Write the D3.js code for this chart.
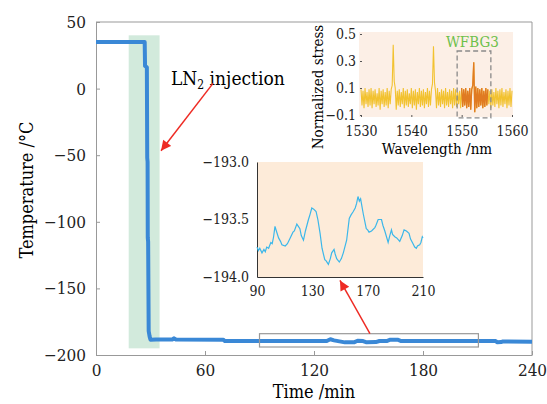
<!DOCTYPE html>
<html>
<head>
<meta charset="utf-8">
<title>LN2 cooling</title>
<script src="https://d3js.org/d3.v7.min.js"></script>
<style>
  body, html { margin: 0; padding: 0; background: #fff; }
  .axis path, .axis line { stroke: #999; }
  .axis text { fill: #222; }
</style>
</head>
<body>
<svg id="chart" width="547" height="404" font-family="'DejaVu Serif Condensed', 'DejaVu Serif', serif"></svg>
<script>
// main temperature curve (time in min, temperature in degC)
var timeMin = [0, 26.8, 27, 28, 28.2, 28.4, 28.5, 28.7, 29, 29.5, 30, 33, 42, 43, 44, 70, 71,
  127, 129, 131, 137, 142, 144, 147, 149, 154, 156, 160, 162, 166, 168, 220, 221, 223, 224, 240];
var tempC = [35, 35, 17, 16, -52, -55, -112, -115, -182, -186, -188.5, -188.3, -188.3, -187.5, -188.3, -188.5, -189.5,
  -189.5, -188.2, -189, -190.5, -190.5, -189.3, -189.5, -190.5, -190.3, -189.5, -189.5, -188.5, -188.5, -189.5, -189.5, -190.5, -190.3, -189.8, -190];
var xTicks = [0, 60, 120, 180, 240];
var yTicks = [50, 0, -50, -100, -150, -200];
var injectTime = [18, 35];      // LN2 injection window
var injectTemp = [40, -195];
var zoomBoxTime = [90, 210.5];
var zoomBoxTemp = [-184, -194];

// zoomed temperature inset (90-210 min)
var zoomTime = [90, 91, 92, 93.6, 95, 96, 97, 98.4, 100, 101, 102, 103, 104, 105.6, 107, 108, 110.4, 112, 114, 116, 117, 118.8, 121, 122, 123.6, 125,
  127.2, 128, 129.6, 131, 132.7, 134, 135.6, 137, 139, 140, 141.6, 143, 144, 145.7, 146.5, 147.6, 149.5, 151, 152.4, 154.8, 156.7, 158,
  159.6, 161, 162, 163, 164, 164.9, 166.8, 169, 170, 171, 172.8, 175.2, 176, 177.6, 180, 181, 182.4, 184.8, 186, 187.2, 188, 189.6, 191,
  193.2, 195, 196.3, 198, 199.9, 201, 202.8, 204, 205.2, 206, 207.6, 208.5, 209.5, 210];
var zoomTemp = [-193.74, -193.77, -193.75, -193.79, -193.76, -193.78, -193.74, -193.75, -193.7, -193.71, -193.65, -193.56, -193.6, -193.66, -193.69, -193.72, -193.73, -193.71, -193.66, -193.61, -193.6, -193.54, -193.58, -193.64, -193.68, -193.6,
  -193.5, -193.47, -193.4, -193.41, -193.43, -193.5, -193.62, -193.75, -193.85, -193.86, -193.89, -193.84, -193.79, -193.76, -193.8, -193.84, -193.87, -193.84, -193.79, -193.68, -193.49, -193.46,
  -193.43, -193.4, -193.36, -193.3, -193.34, -193.32, -193.45, -193.58, -193.59, -193.61, -193.6, -193.57, -193.55, -193.5, -193.5, -193.55, -193.6, -193.7, -193.64, -193.59, -193.63, -193.65, -193.66,
  -193.69, -193.64, -193.59, -193.6, -193.62, -193.67, -193.71, -193.74, -193.75, -193.73, -193.72, -193.7, -193.65, -193.66];
var zoomXTicks = [90, 130, 170, 210];
var zoomYTicks = [-193.0, -193.5, -194.0];

// reflection spectrum inset, sampled every 0.2 nm from 1530 nm
var wlStart = 1530, wlStep = 0.2;
var stress = [
  0.09,-0.03,0.08,-0.05,0.10,-0.02,0.07,-0.04,0.09,-0.03,
  0.10,-0.05,0.08,-0.02,0.09,-0.04,0.06,-0.03,0.10,-0.06,
  0.08,-0.02,0.09,-0.04,0.07,-0.03,0.10,-0.05,0.08,-0.02,
  0.09,0.12,0.42,0.15,0.10,-0.06,0.08,-0.03,0.09,-0.04,
  0.07,-0.02,0.10,-0.05,0.08,-0.03,0.09,-0.04,0.06,-0.02,
  0.10,-0.05,0.08,-0.03,0.09,-0.06,0.07,-0.02,0.10,-0.04,
  0.08,-0.03,0.09,-0.05,0.07,-0.02,0.10,-0.04,0.08,-0.03,
  0.09,0.13,0.41,0.14,0.08,-0.05,0.10,-0.03,0.07,-0.04,
  0.09,-0.02,0.08,-0.05,0.10,-0.03,0.07,-0.04,0.09,-0.02,
  0.08,-0.05,0.10,-0.03,0.09,-0.04,0.07,-0.02,0.08,-0.05,
  0.10,-0.04,0.09,-0.03,0.10,-0.05,0.08,-0.04,0.10,-0.06,
  0.09,0.12,0.29,-0.08,0.11,-0.05,0.10,-0.04,0.09,-0.03,
  0.10,-0.05,0.08,-0.04,0.10,-0.03,0.09,-0.02,0.08,-0.05,
  0.09,-0.03,0.07,-0.04,0.10,-0.02,0.08,-0.05,0.09,-0.03,
  0.10,-0.04,0.07,-0.02,0.09,-0.05,0.08,-0.03,0.10,-0.04,0.08];
var wfbgRange = [1550, 1555.2];
var wfbgBoxWl = [1549.1, 1555.8];
var wfbgBoxStress = [0.374, -0.122];
var specXTicks = [1530, 1540, 1550, 1560];
var specYTicks = [0.5, 0.3, 0.1, -0.1];

var svg = d3.select("#chart");

// ---------- main chart ----------
var x = d3.scaleLinear().domain([0, 240]).range([96, 532]);
var y = d3.scaleLinear().domain([-200, 50]).range([355, 22]);

svg.append("rect")
  .attr("x", x(injectTime[0])).attr("y", y(injectTemp[0]))
  .attr("width", x(injectTime[1]) - x(injectTime[0]))
  .attr("height", y(injectTemp[1]) - y(injectTemp[0]))
  .attr("fill", "#d2eadc");

// frame top/right
svg.append("line").attr("x1", 96).attr("x2", 532).attr("y1", 22).attr("y2", 22).attr("stroke", "#999");
svg.append("line").attr("x1", 532).attr("x2", 532).attr("y1", 22).attr("y2", 355).attr("stroke", "#999");

function plain(g) { g.attr("font-family", null).attr("font-size", null); }

svg.append("g").attr("class", "axis").attr("transform", "translate(0,355)")
  .call(d3.axisBottom(x).tickValues(xTicks).tickSizeInner(-4).tickSizeOuter(0).tickPadding(9))
  .call(plain).call(function(g) { g.selectAll("text").attr("font-size", 17); });

svg.append("g").attr("class", "axis").attr("transform", "translate(96,0)")
  .call(d3.axisLeft(y).tickValues(yTicks).tickSizeInner(-4).tickSizeOuter(0).tickPadding(10))
  .call(plain).call(function(g) { g.selectAll("text").attr("font-size", 17); });

var pts = timeMin.map(function(t, i) { return [t, tempC[i]]; });
svg.append("path").datum(pts)
  .attr("fill", "none").attr("stroke", "#3a88d6").attr("stroke-width", 4)
  .attr("stroke-linejoin", "round")
  .attr("d", d3.line().x(function(d) { return x(d[0]); }).y(function(d) { return y(d[1]); }));

svg.append("rect")
  .attr("x", x(zoomBoxTime[0])).attr("y", y(zoomBoxTemp[0]))
  .attr("width", x(zoomBoxTime[1]) - x(zoomBoxTime[0]))
  .attr("height", y(zoomBoxTemp[1]) - y(zoomBoxTemp[0]))
  .attr("fill", "none").attr("stroke", "#999").attr("stroke-width", 1.2);

svg.append("text").attr("x", 314).attr("y", 398).attr("text-anchor", "middle")
  .attr("font-size", 18).text("Time /min");
svg.append("text").attr("transform", "translate(33,190) rotate(-90)").attr("text-anchor", "middle")
  .attr("font-size", 18).text("Temperature /\u00b0C");

var lab = svg.append("text").attr("x", 171).attr("y", 85).attr("font-size", 19);
lab.append("tspan").text("LN");
lab.append("tspan").attr("font-size", 12).attr("dy", 4).text("2");
lab.append("tspan").attr("dy", -4).text(" injection");

// arrows
svg.append("defs").append("marker").attr("id", "ah")
  .attr("viewBox", "0 0 10 10").attr("refX", 10).attr("refY", 5)
  .attr("markerWidth", 12).attr("markerHeight", 10).attr("markerUnits", "userSpaceOnUse")
  .attr("orient", "auto")
  .append("path").attr("d", "M0,0L10,5L0,10z").attr("fill", "#ee2b24");

function arrow(x1, y1, x2, y2) {
  svg.append("line").attr("x1", x1).attr("y1", y1).attr("x2", x2).attr("y2", y2)
    .attr("stroke", "#ee2b24").attr("stroke-width", 1.5).attr("marker-end", "url(#ah)");
}
arrow(x(64.4), y(3.9), x(35.8), y(-46.7));
arrow(x(150.8), y(-184), x(134.3), y(-144));

// ---------- zoomed temperature inset ----------
var zx = d3.scaleLinear().domain([90, 210]).range([257, 423]);
var zy = d3.scaleLinear().domain([-194, -193]).range([277, 162]);

svg.append("rect").attr("x", 257).attr("y", 162).attr("width", 166).attr("height", 115).attr("fill", "#fdebd9");

var zxa = svg.append("g").attr("transform", "translate(0,277)")
  .call(d3.axisBottom(zx).tickValues(zoomXTicks).tickSize(0).tickPadding(9));
var zya = svg.append("g").attr("transform", "translate(257,0)")
  .call(d3.axisLeft(zy).tickValues(zoomYTicks).tickSize(0).tickPadding(8).tickFormat(d3.format(".1f")));
[zxa, zya].forEach(function(g) {
  plain(g);
  g.select(".domain").attr("stroke", "#333");
  g.selectAll("text").attr("font-size", 14).attr("fill", "#222");
});

svg.append("path").datum(zoomTime.map(function(t, i) { return [t, zoomTemp[i]]; }))
  .attr("fill", "none").attr("stroke", "#3bb7ea").attr("stroke-width", 1.2)
  .attr("d", d3.line().x(function(d) { return zx(d[0]); }).y(function(d) { return zy(d[1]); }));

// ---------- spectrum inset ----------
var sx = d3.scaleLinear().domain([1530, 1560]).range([361, 512]);
var sy = d3.scaleLinear().domain([-0.1, 0.5]).range([115, 34]);
var wl = d3.range(stress.length).map(function(i) { return +(wlStart + i * wlStep).toFixed(1); });

svg.append("rect").attr("x", 359).attr("y", 32).attr("width", 154).attr("height", 85).attr("fill", "#fcefe6");

var sxa = svg.append("g").attr("transform", "translate(0,117)")
  .call(d3.axisBottom(sx).tickValues(specXTicks).tickSizeInner(-2).tickSizeOuter(0).tickPadding(9).tickFormat(d3.format("d")));
var sya = svg.append("g").attr("transform", "translate(360,0)")
  .call(d3.axisLeft(sy).tickValues(specYTicks).tickSizeInner(-2).tickSizeOuter(0).tickPadding(4).tickFormat(d3.format(".1f")));
[sxa, sya].forEach(function(g) {
  plain(g);
  g.select(".domain").remove();
  g.selectAll("line").attr("stroke", "#555");
  g.selectAll("text").attr("font-size", 14).attr("fill", "#222");
});

var sLine = d3.line().x(function(d) { return sx(d[0]); }).y(function(d) { return sy(d[1]); });
var spec = wl.map(function(w, i) { return [w, stress[i]]; });
svg.append("path").datum(spec)
  .attr("fill", "none").attr("stroke", "#f2c230").attr("stroke-width", 1.1).attr("d", sLine);
svg.append("path").datum(spec.filter(function(d) { return d[0] >= wfbgRange[0] && d[0] <= wfbgRange[1]; }))
  .attr("fill", "none").attr("stroke", "#e07a22").attr("stroke-width", 1.3).attr("d", sLine);

svg.append("rect")
  .attr("x", sx(wfbgBoxWl[0])).attr("y", sy(wfbgBoxStress[0]))
  .attr("width", sx(wfbgBoxWl[1]) - sx(wfbgBoxWl[0]))
  .attr("height", sy(wfbgBoxStress[1]) - sy(wfbgBoxStress[0]))
  .attr("fill", "none").attr("stroke", "#8a8a8a").attr("stroke-width", 1.3).attr("stroke-dasharray", "5,3");

svg.append("text").attr("x", 446).attr("y", 47).attr("font-size", 15).attr("fill", "#6cc04a").text("WFBG3");
svg.append("text").attr("x", 437).attr("y", 154).attr("text-anchor", "middle").attr("font-size", 15).text("Wavelength /nm");
svg.append("text").attr("transform", "translate(323,87) rotate(-90)").attr("text-anchor", "middle")
  .attr("font-size", 15).text("Normalized stress");
</script>
</body>
</html>
